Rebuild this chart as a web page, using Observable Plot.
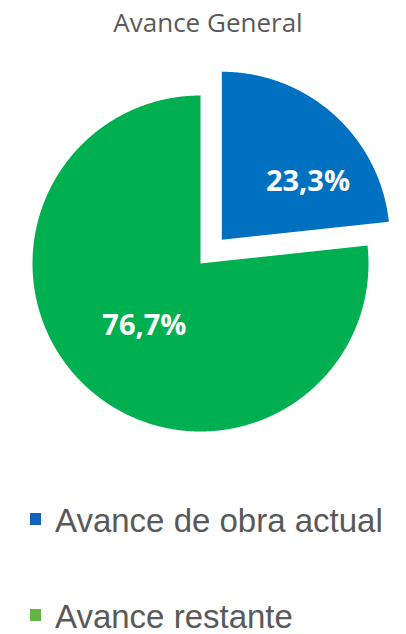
<!DOCTYPE html>
<html>
<head>
<meta charset="utf-8">
<script src="https://cdn.jsdelivr.net/npm/d3@7"></script>
<script src="https://cdn.jsdelivr.net/npm/@observablehq/plot@0.6"></script>
<style>
  html, body { margin: 0; padding: 0; background: #fff; }
  body { position: relative; width: 406px; height: 634px; overflow: hidden; }
  #title { position: absolute; left: 0; top: 9px; width: 416px; text-align: center;
           font-family: "Open Sans", sans-serif; font-size: 26px; line-height: 1; color: #595959; }
  #chart { position: absolute; left: 0; top: 42px; }
  .leg { position: absolute; left: 0; font-family: "Liberation Sans", Arial, sans-serif;
         font-size: 33px; line-height: 1; color: #595959; white-space: nowrap; }
  .leg .sw { position: absolute; left: 30px; width: 11px; height: 12px; }
  .leg .tx { position: absolute; left: 55px; top: 0; }
</style>
</head>
<body>
<div id="title"></div>
<div id="chart"></div>
<div id="legend"></div>
<script>
const title = "Avance General";
const categories = ["Avance de obra actual", "Avance restante"];
const values = [23.3, 76.7];
const valueLabels = ["23,3%", "76,7%"];
const colors = ["#0070C0", "#00B050"];
const legendColors = ["#1560BD", "#62B545"];
const explode = [0.19, 0];

document.getElementById("title").textContent = title;

const arcs = d3.pie().sort(null)(values);
const slicePts = [];
const labelPts = [];
arcs.forEach((a, i) => {
  const mid = (a.startAngle + a.endAngle) / 2;
  const ox = explode[i] * Math.sin(mid), oy = explode[i] * Math.cos(mid);
  const key = categories[i];
  slicePts.push({key, x: ox, y: oy});
  const n = Math.ceil((a.endAngle - a.startAngle) / 0.005);
  for (let k = 0; k <= n; k++) {
    const t = a.startAngle + (a.endAngle - a.startAngle) * k / n;
    slicePts.push({key, x: ox + Math.sin(t), y: oy + Math.cos(t)});
  }
  slicePts.push({key, x: ox, y: oy});
  labelPts.push({key, text: valueLabels[i], x: ox + 0.5 * Math.sin(mid), y: oy + 0.5 * Math.cos(mid)});
});

const chart = Plot.plot({
  width: 406,
  height: 450,
  margin: 0,
  x: {domain: [-1, 1], range: [32, 368], axis: null},
  y: {domain: [-1, 1], range: [389, 53], axis: null},
  color: {domain: categories, range: colors},
  style: {background: "transparent"},
  marks: [
    Plot.line(slicePts, {x: "x", y: "y", z: "key", fill: "key", stroke: "none"}),
    Plot.text(labelPts.filter((d, i) => i === 0), {x: "x", y: "y", text: "text", fill: "white",
      fontSize: 29, fontWeight: "bold", fontFamily: "Open Sans", dx: 30, dy: 4}),
    Plot.text(labelPts.filter((d, i) => i === 1), {x: "x", y: "y", text: "text", fill: "white",
      fontSize: 29, fontWeight: "bold", fontFamily: "Open Sans"})
  ]
});
document.getElementById("chart").appendChild(chart);

const legendTops = [504, 600];
const legend = document.getElementById("legend");
categories.forEach((c, i) => {
  const row = document.createElement("div");
  row.className = "leg";
  row.style.top = legendTops[i] + "px";
  row.style.width = "406px";
  const sw = document.createElement("div");
  sw.className = "sw";
  sw.style.background = legendColors[i];
  sw.style.top = "9px";
  const tx = document.createElement("div");
  tx.className = "tx";
  tx.textContent = c;
  row.appendChild(sw);
  row.appendChild(tx);
  legend.appendChild(row);
});
</script>
</body>
</html>
